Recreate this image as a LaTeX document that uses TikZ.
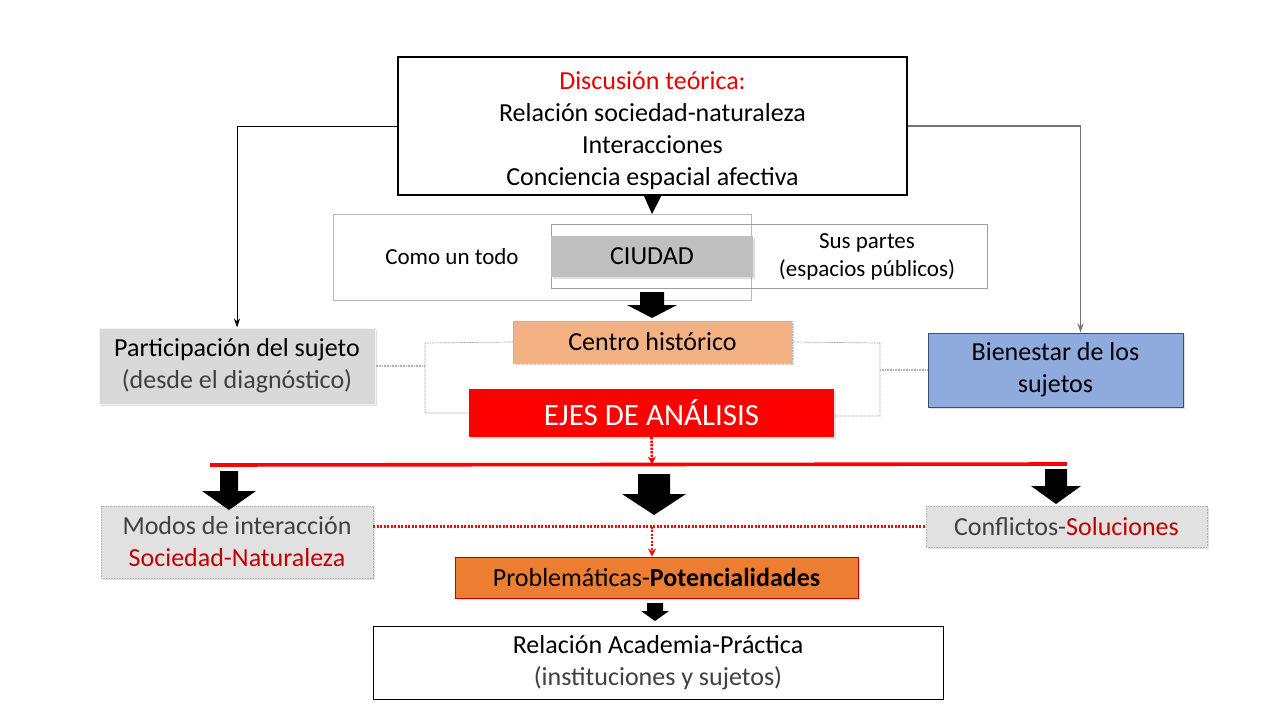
\documentclass[tikz,border=0pt]{standalone}
\usepackage{fontspec}
\setmainfont{Carlito}
\usetikzlibrary{arrows.meta,shadows}
\definecolor{dred}{RGB}{192,0,0}
\definecolor{tred}{RGB}{230,0,0}
\definecolor{dgray}{RGB}{64,64,64}
\definecolor{peach}{RGB}{244,177,131}
\definecolor{orng}{RGB}{237,125,49}
\definecolor{lblue}{RGB}{143,170,220}
\definecolor{bluebd}{RGB}{60,80,110}
\definecolor{lgray}{RGB}{217,217,217}
\definecolor{mgray}{RGB}{191,191,191}
\newcommand\blockarr[6]{\fill[black] (#1-#4,#2) -- (#1+#4,#2) -- (#1+#4,#3-#6) -- (#1+#5,#3-#6) -- (#1,#3) -- (#1-#5,#3-#6) -- (#1-#4,#3-#6) -- cycle;}
\tikzset{
  box/.style={rectangle, inner sep=0pt, align=center, font=\fontsize{26}{32}\selectfont},
  shad/.style={drop shadow={opacity=0.25, shadow xshift=2pt, shadow yshift=-2pt}},
  thinarrow/.style={-{Stealth[length=9pt,width=6pt]}, line width=0.8pt},
  brk/.style={draw=gray!70, line width=0.7pt, dash pattern=on 1pt off 0.6pt},
  reddot/.style={draw=red, line width=2.6pt, dash pattern=on 2.2pt off 1.3pt},
}
\begin{document}
\begin{tikzpicture}[x=1pt,y=-1pt]
\fill[white] (0,0) rectangle (1280,720);
\useasboundingbox (0,0) rectangle (1280,720);

% top box
\node[box, draw=black, line width=1.2pt, minimum width=509pt, minimum height=138pt] (top) at (652.5,126)
  {\rule{0pt}{27pt}\textcolor{tred}{Discusión teórica:}\\Relación sociedad-naturaleza\\Interacciones\\Conciencia espacial afectiva};

% ciudad group
\node[box, draw=gray!55, line width=0.8pt, minimum width=418pt, minimum height=86pt] (todo) at (542,257) {};
\node[box, draw=gray!75, line width=0.8pt, minimum width=436pt, minimum height=64pt] (partes) at (769,256) {};
\node[box, fill=mgray, shad, minimum width=202pt, minimum height=41pt] (ciudad) at (652,256.5) {CIUDAD};
\node[box, font=\fontsize{23}{28}\selectfont] (todotxt) at (452,257) {Como un todo};
\node[box, font=\fontsize{23}{28}\selectfont] (partestxt) at (867,257) {Sus partes\\(espacios públicos)};

% centro and ejes
\node[box, fill=peach, draw=gray!60, dash pattern=on 1pt off 0.6pt, shad, minimum width=279pt, minimum height=42pt] (centro) at (652.5,342) {Centro histórico};
\node[box, fill=red, shad, text=white, font=\fontsize{31}{36}\selectfont, minimum width=365pt, minimum height=48pt] (ejes) at (651.5,413) {EJES DE ANÁLISIS};

% side boxes
\node[box, fill=lgray, draw=white!90!gray, line width=1pt, shad, minimum width=276pt, minimum height=76pt] (part) at (237,366)
  {Participación del sujeto\\\textcolor{dgray}{(desde el diagnóstico)}};
\node[box, fill=lblue, draw=bluebd, line width=1pt, shad, minimum width=255pt, minimum height=74pt] (bien) at (1055.5,370)
  {Bienestar de los\\sujetos};

% connectors from top
\draw[thinarrow, black] (top.west) -| (part.north);
\draw[thinarrow, draw=gray!90!black, line width=1.4pt] (top.east) -| ([xshift=25pt]bien.north);
\coordinate (toptip) at (652,214);
\draw[black, line width=1pt, -{Triangle[width=17pt,length=18pt]}] (top.south) -- (toptip);

% block arrow ciudad -> centro
\blockarr{652}{292}{318}{12}{25}{13}

% brackets
\coordinate (lb) at (425,343);
\coordinate (rb) at (880,343);
\draw[brk] (centro.west) -- (lb) |- (ejes.west);
\draw[brk] (centro.east) -- (rb) |- ([yshift=-3pt]ejes.east);
\draw[brk, draw=gray!60, line width=1.2pt] (part.east) -- (part.east -| lb);
\draw[brk, draw=gray!60, line width=1.2pt] (bien.west) -- (bien.west -| rb);

% red line
\coordinate (rl) at (210,465);
\coordinate (rr) at (1067,464);
\coordinate (rm) at (652,464.5);
\draw[red, line width=3.6pt] (rl) -- (rr);
\draw[reddot, -{Stealth[length=8pt,width=8pt]}] (ejes.south) -- (rm);

% bottom boxes
\node[box, fill=lgray!80!white, draw=gray!60, dash pattern=on 1pt off 0.6pt, shad, minimum width=272pt, minimum height=72pt] (modos) at (237,542)
  {\textcolor{dgray}{Modos de interacción}\\\textcolor{dred}{Sociedad-Naturaleza}};
\node[box, fill=lgray!80!white, draw=gray!60, dash pattern=on 1pt off 0.6pt, shad, minimum width=281pt, minimum height=41pt] (conf) at (1066.5,526.5)
  {\textcolor{dgray}{Conflictos-}\textcolor{dred}{Soluciones}};
\node[box, fill=orng, draw=dred, line width=1pt, shad, minimum width=403pt, minimum height=41pt] (prob) at (656.5,577.5)
  {Problemáticas-\textbf{Potencialidades}};
\node[box, draw=black, line width=1pt, minimum width=570pt, minimum height=73pt] (rel) at (658,662.5)
  {Relación Academia-Práctica\\\textcolor{dgray}{(instituciones y sujetos)}};

% block arrows under red line
\blockarr{229}{471}{510}{9}{27}{19}
\blockarr{654}{474}{515}{16}{32}{21}
\blockarr{1056}{469}{504}{11}{25}{18}
\blockarr{655}{603}{621}{8}{14}{10}

% red dotted connectors
\coordinate (mid) at (652,526.5);
\draw[reddot] (modos.east |- conf.west) -- (conf.west);
\draw[reddot, -{Stealth[length=8pt,width=8pt]}] (mid) -- (mid |- prob.north);
\end{tikzpicture}
\end{document}
